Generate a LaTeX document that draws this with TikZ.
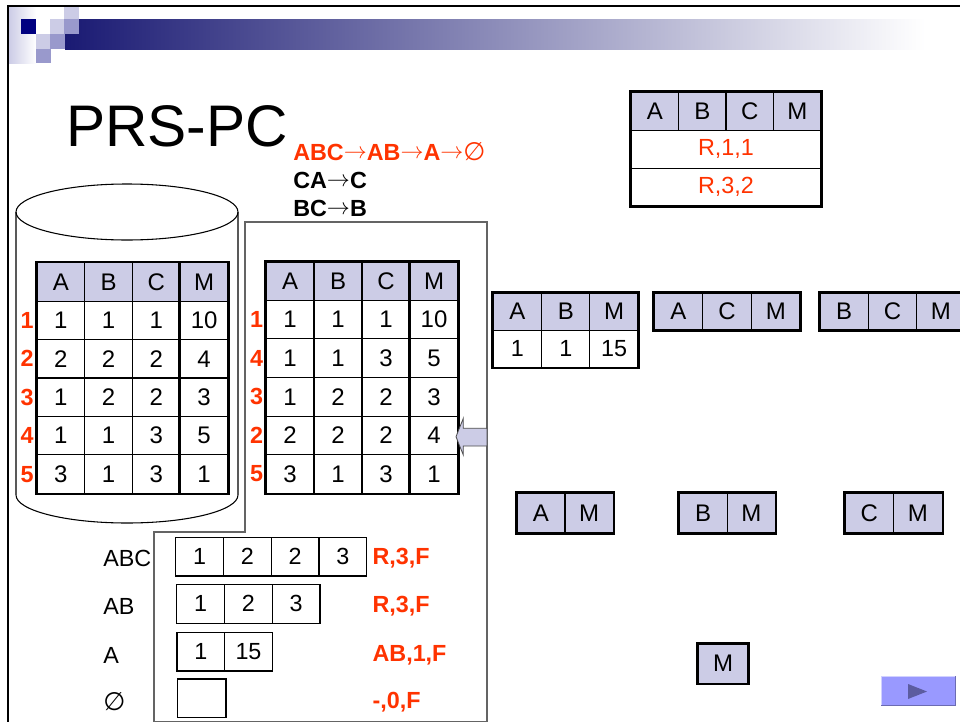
\documentclass[tikz,border=0pt]{standalone}
\usepackage{fontspec}
\setmainfont{Liberation Sans}
\newfontfamily\symfont{DejaVu Sans}
\definecolor{hdr}{RGB}{204,204,230}
\definecolor{hdrmid}{RGB}{153,153,204}
\definecolor{navy}{RGB}{0,0,128}
\definecolor{ored}{RGB}{255,51,0}
\definecolor{polyg}{RGB}{100,100,100}
\definecolor{btn}{RGB}{153,153,255}
\definecolor{btntri}{RGB}{92,92,160}
\definecolor{barL}{RGB}{26,26,115}
\definecolor{barM}{RGB}{178,178,200}
\newcommand\rarr{\raisebox{0.06em}{$\rightarrow$}}
\newcommand\cellrow[7]{%
  \foreach \v [count=\i] in {#7}{%
    \node[#6, minimum width=#4*0.75pt, minimum height=#5*0.75pt] (#1-\i) at ({#2+(\i-0.5)*#4},#3) {\v};}}
\begin{document}
\begin{tikzpicture}[x=0.75pt,y=-0.75pt,
  cell/.style={draw=black, line width=0.8pt, inner sep=0pt, anchor=center},
  hcell/.style={cell, fill=hdr, font=\fontsize{18}{20}\selectfont},
  dcell/.style={cell, fill=white, font=\fontsize{18}{20}\selectfont},
  scell/.style={cell, fill=hdr, font=\fontsize{18}{20}\selectfont},
  sdcell/.style={cell, fill=white, font=\fontsize{17.5}{20}\selectfont},
  bcell/.style={cell, fill=white, line width=0.9pt, font=\fontsize{17.5}{20}\selectfont},
  outer/.style={line width=2pt},
  rownum/.style={text=ored, font=\bfseries\fontsize{17.5}{20}\selectfont, inner sep=0pt},
  redlab/.style={text=ored, font=\bfseries\fontsize{17.5}{20}\selectfont, inner sep=0pt, anchor=west},
  lab/.style={font=\fontsize{17.5}{20}\selectfont, inner sep=0pt, anchor=west},
  chain/.style={font=\bfseries\fontsize{17.5}{20}\selectfont, inner sep=0pt, anchor=west},
]
\useasboundingbox (0,0) rectangle (960,721);
\clip (0,0) rectangle (960,721);
\fill[white] (0,0) rectangle (960,721);

% title decoration
\shade[left color=barL, middle color=barM, right color=white] (65,19) rectangle (925,49);
\shade[left color=hdr, right color=white] (9,7) rectangle (36,63);
\fill[navy] (21,19) rectangle (36,34);
\fill[hdr] (64,7.3) rectangle (79,19);
\fill[hdr] (50,19) rectangle (64,34);
\fill[hdrmid] (64,19) rectangle (79,34);
\fill[hdr] (36,34) rectangle (50,49);
\fill[hdrmid] (50,34) rectangle (65,49);
\fill[hdrmid] (36,49) rectangle (51,63);
\draw[line width=1.5pt] (8,722) -- (8,6) -- (962,6);

% title and chains
\node[anchor=base west, inner sep=0pt, font=\fontsize{44}{48}\selectfont] (title) at (66,146.7) {PRS-PC};
\node[chain, text=ored] (ch1) at (293,151.2) {ABC\rarr AB\rarr A\rarr{\symfont\mdseries\fontsize{19}{20}\selectfont ∅}};
\node[chain] (ch2) at (293,180.3) {CA\rarr C};
\node[chain] (ch3) at (293,208) {BC\rarr B};

% cylinder
\draw[line width=0.8pt] (127,212) ellipse [x radius=111, y radius=28];
\draw[line width=0.8pt] (16,212) -- (16,495) arc[start angle=180, end angle=0, x radius=111, y radius=28] -- (238,212);

% middle frame polygon
\draw[polyg, line width=0.9pt] (245,222) -- (487,222) -- (487,722) -- (154,722) -- (154,532) -- (245,532) -- cycle;

% left table
\cellrow{L0}{37}{281.9}{47.75}{38.43}{hcell}{A,B,C,M}
\cellrow{L1}{37}{320.35}{47.75}{38.43}{dcell}{1,1,1,10}
\cellrow{L2}{37}{358.8}{47.75}{38.43}{dcell}{2,2,2,4}
\cellrow{L3}{37}{397.2}{47.75}{38.43}{dcell}{1,2,2,3}
\cellrow{L4}{37}{435.6}{47.75}{38.43}{dcell}{1,1,3,5}
\cellrow{L5}{37}{474.1}{47.75}{38.43}{dcell}{3,1,3,1}
\draw[outer] (L0-1.north west) rectangle (L5-4.south east);
\draw[outer] (L0-4.north west) -- (L5-4.south west);
\node[rownum] (Ln1) at (27,320.35) {1};
\node[rownum] (Ln2) at (27,358.8) {2};
\node[rownum] (Ln3) at (27,397.2) {3};
\node[rownum] (Ln4) at (27,435.6) {4};
\node[rownum] (Ln5) at (27,474.1) {5};

% middle table
\cellrow{R0}{266}{281.0}{48}{38.6}{hcell}{A,B,C,M}
\cellrow{R1}{266}{319.6}{48}{38.6}{dcell}{1,1,1,10}
\cellrow{R2}{266}{358.2}{48}{38.6}{dcell}{1,1,3,5}
\cellrow{R3}{266}{396.8}{48}{38.6}{dcell}{1,2,2,3}
\cellrow{R4}{266}{435.4}{48}{38.6}{dcell}{2,2,2,4}
\cellrow{R5}{266}{474.0}{48}{38.6}{dcell}{3,1,3,1}
\draw[outer] (R0-1.north west) rectangle (R5-4.south east);
\draw[outer] (R0-4.north west) -- (R5-4.south west);
\node[rownum] (Rn1) at (256.7,319.6) {1};
\node[rownum] (Rn2) at (256.7,358.2) {4};
\node[rownum] (Rn3) at (256.7,396.8) {3};
\node[rownum] (Rn4) at (256.7,435.4) {2};
\node[rownum] (Rn5) at (256.7,474.0) {5};

% pointer arrow
\draw[fill=hdr, draw=black!70, line width=0.6pt] (456,436.7) -- (463.3,418.3) -- (463.3,428.3) -- (487,428.3) -- (487,446) -- (463.3,446) -- (463.3,455) -- cycle;

% top-right table
\cellrow{T0}{631}{111.2}{47.5}{37.7}{scell}{A,B,C,M}
\node[sdcell, text=ored, minimum width=190*0.75pt, minimum height=38.3*0.75pt] (T1) at (726,149.2) {R,1,1};
\node[sdcell, text=ored, minimum width=190*0.75pt, minimum height=37.7*0.75pt] (T2) at (726,187.2) {R,3,2};
\draw[outer] (T0-1.north west) rectangle (T2.south east);

% ABM, ACM, BCM
\cellrow{ABM0}{493.3}{311.7}{48.3}{36.7}{scell}{A,B,M}
\cellrow{ABM1}{493.3}{348.7}{48.3}{37.3}{sdcell}{1,1,15}
\draw[outer] (ABM0-1.north west) rectangle (ABM1-3.south east);
\cellrow{ACM}{654}{311.7}{48.7}{36.7}{scell}{A,C,M}
\draw[outer] (ACM-1.north west) rectangle (ACM-3.south east);
\cellrow{BCM}{820}{311.7}{48.3}{36.7}{scell}{B,C,M}
\draw[outer] (BCM-1.north west) rectangle (BCM-3.south east);

% AM, BM, CM, M
\cellrow{AM}{516.7}{513}{48.3}{39.4}{scell}{A,M}
\draw[outer] (AM-1.north west) rectangle (AM-2.south east);
\cellrow{BM}{679}{513}{48.3}{39.4}{scell}{B,M}
\draw[outer] (BM-1.north west) rectangle (BM-2.south east);
\cellrow{CM}{845}{513}{48.65}{39.4}{scell}{C,M}
\draw[outer] (CM-1.north west) rectangle (CM-2.south east);
\node[scell, minimum width=49.4*0.75pt, minimum height=39.3*0.75pt] (Mo) at (723,663.7) {M};
\draw[outer] (Mo.north west) rectangle (Mo.south east);

% bottom counters
\node[lab] (lABC) at (103,558) {ABC};
\node[lab] (lAB) at (103,606.7) {AB};
\node[lab] (lA) at (103,655) {A};
\node[lab] (lE) at (103,701.7) {\symfont\fontsize{19}{20}\selectfont ∅};
\cellrow{B1}{175.7}{556.7}{47.75}{38.7}{bcell}{1,2,2,3}
\cellrow{B2}{176.7}{603.8}{47.77}{39}{bcell}{1,2,3}
\cellrow{B3}{177}{651.7}{47.65}{38.7}{bcell}{1,15}
\node[bcell, minimum width=48.3*0.75pt, minimum height=38.7*0.75pt] (B4) at (201.85,698.35) {};
\node[redlab] (rl1) at (372.3,558) {R,3,F};
\node[redlab] (rl2) at (372.3,606) {R,3,F};
\node[redlab] (rl3) at (372.3,655) {AB,1,F};
\node[redlab] (rl4) at (372.3,702) {-,0,F};

% play button
\fill[btn] (880.7,675.7) rectangle (955.7,705.7);
\draw[white!55!btn, line width=1pt] (881.2,705.2) -- (881.2,676.2) -- (955.2,676.2);
\draw[btn!70!black, line width=1pt] (955.2,676.2) -- (955.2,705.2) -- (881.2,705.2);
\fill[btntri] (908,684) -- (927,691.5) -- (908,699) -- cycle;
\end{tikzpicture}
\end{document}
